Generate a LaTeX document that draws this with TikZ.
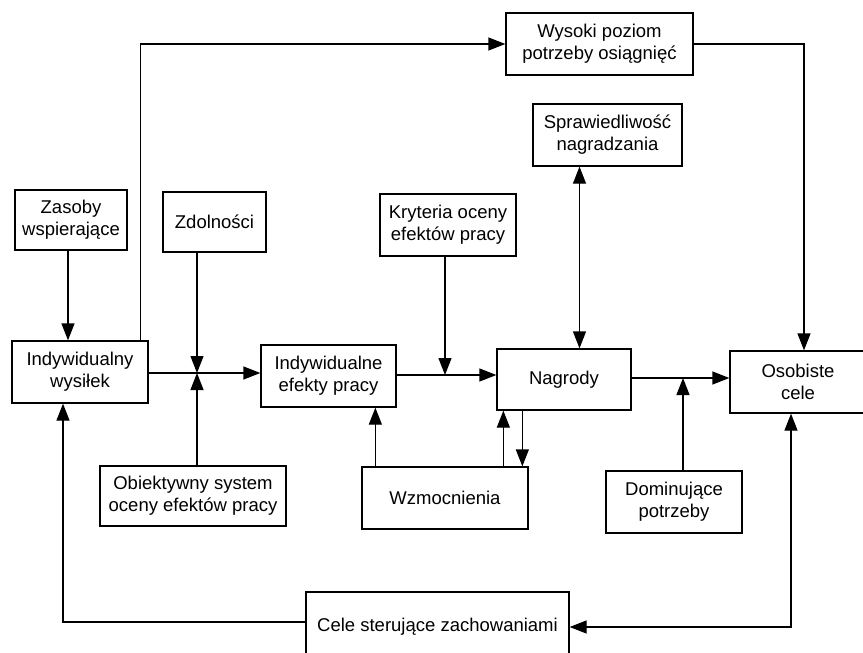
\documentclass[tikz,border=0pt]{standalone}
\usepackage{fontspec}
\setmainfont{Liberation Sans}
\usetikzlibrary{arrows.meta}

\begin{document}
\begin{tikzpicture}[x=1pt, y=1pt, line width=1.3pt,
        box/.style={draw, align=center, inner sep=0pt, font=\fontsize{18.5}{22}\selectfont},
        >={Triangle[length=17pt, width=13pt]}]
            \useasboundingbox (0,0) rectangle (863,-653);

            % Top row nodes
            \node[box, minimum width=187pt, minimum height=62pt] (wysoki) at (599.5,-44) {Wysoki poziom\\potrzeby osiągnięć};
            \node[box, minimum width=149pt, minimum height=62pt] (sprawiedliwosc) at (607.5,-135) {Sprawiedliwość\\nagradzania};
            \node[box, minimum width=112pt, minimum height=60pt] (zasoby) at (71,-220) {Zasoby\\wspierające};
            \node[box, minimum width=103pt, minimum height=60pt] (zdolnosci) at (214.5,-222) {Zdolności};
            \node[box, minimum width=136pt, minimum height=62pt] (kryteria) at (448,-225) {Kryteria oceny\\efektów pracy};

            % Middle row nodes
            \node[box, minimum width=136pt, minimum height=62pt] (wysilek) at (80,-372) {Indywidualny\\wysiłek};
            \node[box, minimum width=135pt, minimum height=62pt] (efekty) at (328.5,-376) {Indywidualne\\efekty pracy};
            \node[box, minimum width=134pt, minimum height=61pt] (nagrody) at (564,-379.5) {Nagrody};
            \node[box, minimum width=136pt, minimum height=62pt] (osobiste) at (798,-382) {Osobiste\\cele};

            % Bottom row nodes
            \node[box, minimum width=186pt, minimum height=60pt] (obiektywny) at (193,-496) {Obiektywny system\\oceny efektów pracy};
            \node[box, minimum width=166pt, minimum height=62pt] (wzmocnienia) at (445,-498) {Wzmocnienia};
            \node[box, minimum width=136pt, minimum height=62pt] (dominujace) at (674,-502) {Dominujące\\potrzeby};
            \node[box, minimum width=263pt, minimum height=70pt] (cele) at (437.5,-627) {Cele sterujące zachowaniami};

            % Junctions on the main line
            \coordinate (j1) at (197,-373);
            \coordinate (j2) at (445,-375);
            \coordinate (j3) at (683,-378);

            % Edges
            \draw[->] ([xshift=-3pt]zasoby.south) -- ([xshift=-3pt]zasoby.south |- wysilek.north);
            \draw[->] ([xshift=-8pt]wysilek.north east) |- (wysoki.west);
            \draw[->] (wysilek.east |- j1) -- (efekty.west |- j1);
            \draw[->] (zdolnosci.south -| j1) -- (j1);
            \draw[->] (obiektywny.north -| j1) -- (j1);

            \draw[->] (efekty.east |- j2) -- (nagrody.west |- j2);
            \draw[->] (kryteria.south -| j2) -- (j2);
            \draw[->] ([xshift=14pt]wzmocnienia.north west) -- ([xshift=14pt]wzmocnienia.north west |- efekty.south);
            \draw[->] ([xshift=7pt]nagrody.south west |- wzmocnienia.north) -- ([xshift=7pt]nagrody.south west);
            \draw[->] ([xshift=26pt]nagrody.south west) -- ([xshift=26pt]nagrody.south west |- wzmocnienia.north);
            \draw[<->] ([xshift=-28pt]sprawiedliwosc.south) -- ([xshift=-28pt]sprawiedliwosc.south |- nagrody.north);

            \draw[->] (nagrody.east |- j3) -- (osobiste.west |- j3);
            \draw[->] (dominujace.north -| j3) -- (j3);
            \draw[->] (wysoki.east) -| ([xshift=6pt]osobiste.north);

            % Feedback loops
            \draw[<->] ([xshift=-7pt]osobiste.south) |- (cele.east);
            \draw[->] ([yshift=5pt]cele.west) -| ([xshift=-17pt]wysilek.south);

        \end{tikzpicture}
\end{document}
